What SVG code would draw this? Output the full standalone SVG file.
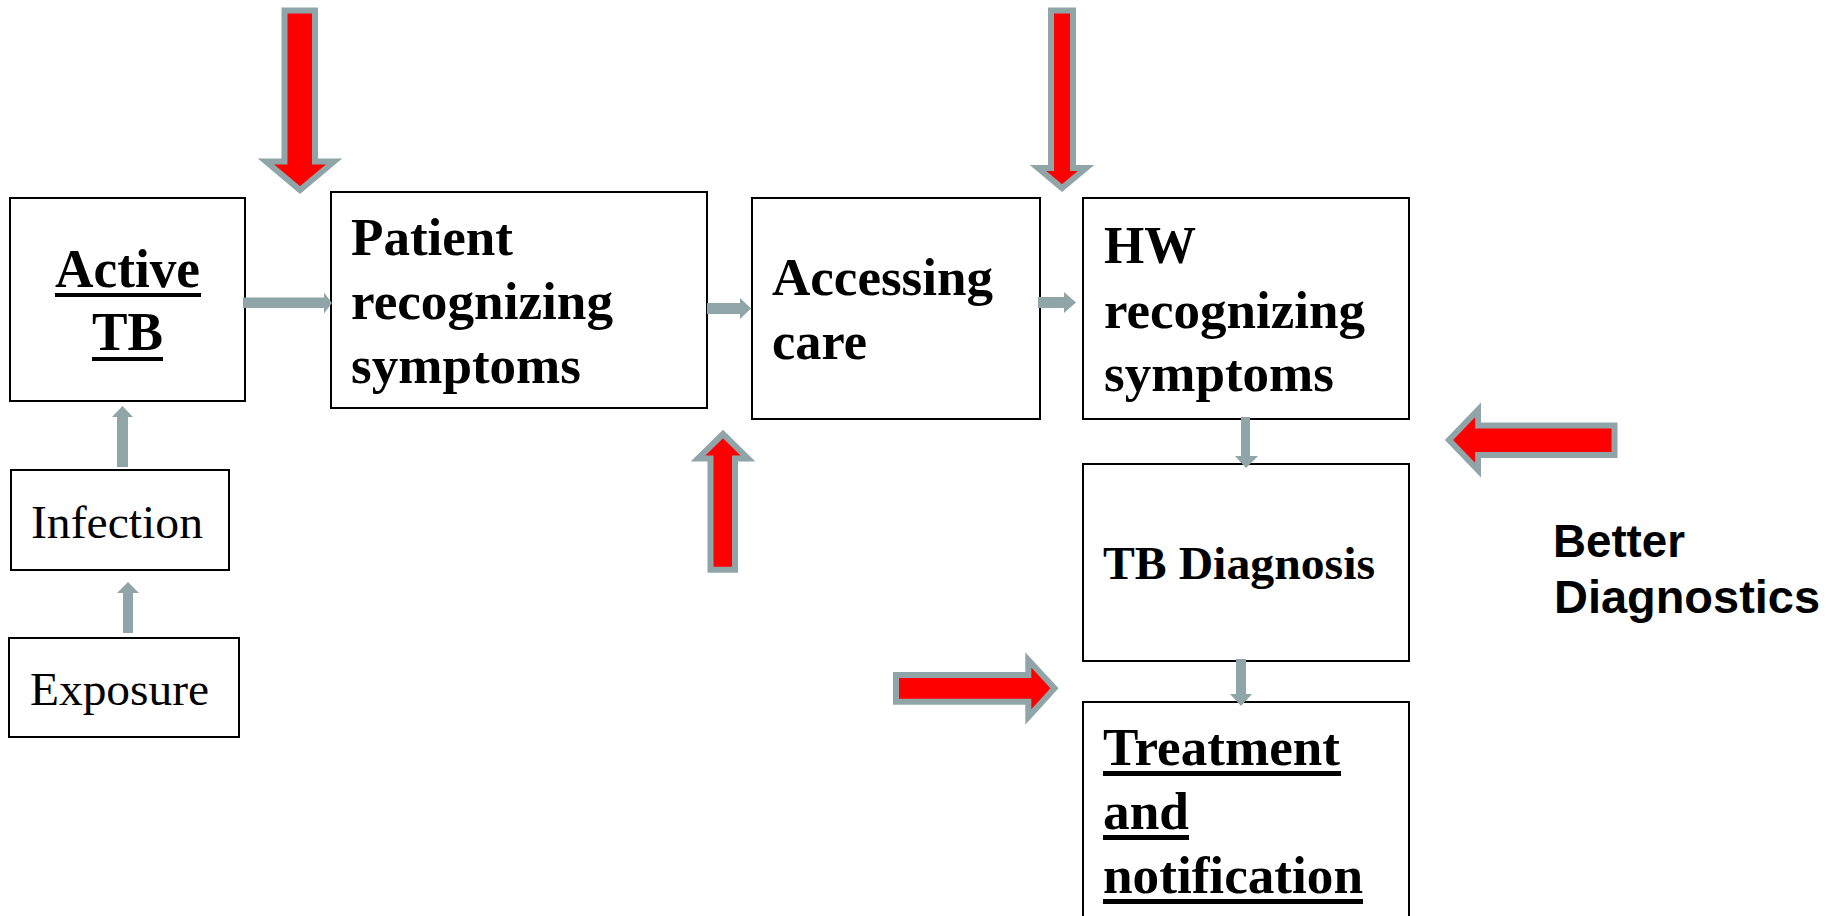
<svg xmlns="http://www.w3.org/2000/svg" width="1837" height="916" viewBox="0 0 1837 916">
<style>
.box{fill:#ffffff;stroke:#000000;stroke-width:2}
.tb{font-family:"Liberation Serif","Times New Roman",serif;font-weight:bold;fill:#000}
.tr{font-family:"Liberation Serif","Times New Roman",serif;fill:#000}
.ts{font-family:"Liberation Sans",Arial,sans-serif;font-weight:bold;fill:#000}
.ul{fill:#000}
.conn{fill:#8fa5a7;stroke:none}
.big{fill:#ff0000;stroke:#8fa5a7;stroke-width:6;stroke-linejoin:miter;stroke-miterlimit:10}
</style>
<rect width="1837" height="916" fill="#ffffff"/>

<g id="active-tb">
<rect class="box" x="10" y="198" width="235" height="203"/>
<text class="tb" x="55" y="287" font-size="54" textLength="145" lengthAdjust="spacingAndGlyphs">Active</text>
<rect class="ul" x="55" y="293" width="146" height="4"/>
<text class="tb" x="92" y="350" font-size="54" textLength="71" lengthAdjust="spacingAndGlyphs">TB</text>
<rect class="ul" x="92" y="357" width="71" height="4"/>
</g>

<g id="patient-recognizing">
<rect class="box" x="331" y="192" width="376" height="216"/>
<text class="tb" x="351" y="255" font-size="53" textLength="162" lengthAdjust="spacingAndGlyphs">Patient</text>
<text class="tb" x="351" y="319" font-size="53" textLength="262" lengthAdjust="spacingAndGlyphs">recognizing</text>
<text class="tb" x="351" y="383" font-size="53" textLength="230" lengthAdjust="spacingAndGlyphs">symptoms</text>
</g>

<g id="accessing-care">
<rect class="box" x="752" y="198" width="288" height="221"/>
<text class="tb" x="772" y="295" font-size="53" textLength="221" lengthAdjust="spacingAndGlyphs">Accessing</text>
<text class="tb" x="772" y="359" font-size="53" textLength="95" lengthAdjust="spacingAndGlyphs">care</text>
</g>

<g id="hw-recognizing">
<rect class="box" x="1083" y="198" width="326" height="221"/>
<text class="tb" x="1104" y="263" font-size="53" textLength="92" lengthAdjust="spacingAndGlyphs">HW</text>
<text class="tb" x="1104" y="328" font-size="53" textLength="261" lengthAdjust="spacingAndGlyphs">recognizing</text>
<text class="tb" x="1104" y="391" font-size="53" textLength="230" lengthAdjust="spacingAndGlyphs">symptoms</text>
</g>

<g id="tb-diagnosis">
<rect class="box" x="1083" y="464" width="326" height="197"/>
<text class="tb" x="1103" y="579" font-size="47" textLength="272" lengthAdjust="spacingAndGlyphs">TB Diagnosis</text>
</g>

<g id="treatment">
<rect class="box" x="1083" y="702" width="326" height="240"/>
<text class="tb" x="1103" y="765" font-size="53" textLength="237" lengthAdjust="spacingAndGlyphs">Treatment</text>
<rect class="ul" x="1103" y="771" width="238" height="5"/>
<text class="tb" x="1103" y="829" font-size="53" textLength="86" lengthAdjust="spacingAndGlyphs">and</text>
<rect class="ul" x="1103" y="835" width="86" height="5"/>
<text class="tb" x="1103" y="893" font-size="53" textLength="260" lengthAdjust="spacingAndGlyphs">notification</text>
<rect class="ul" x="1103" y="899" width="260" height="5"/>
</g>

<g id="infection">
<rect class="box" x="11" y="470" width="218" height="100"/>
<text class="tr" x="31" y="538" font-size="47" textLength="172" lengthAdjust="spacingAndGlyphs">Infection</text>
</g>

<g id="exposure">
<rect class="box" x="9" y="638" width="230" height="99"/>
<text class="tr" x="30" y="705" font-size="47" textLength="179" lengthAdjust="spacingAndGlyphs">Exposure</text>
</g>

<g id="better-diagnostics">
<text class="ts" x="1553" y="557" font-size="46" textLength="132" lengthAdjust="spacingAndGlyphs">Better</text>
<text class="ts" x="1554" y="613" font-size="46" textLength="266" lengthAdjust="spacingAndGlyphs">Diagnostics</text>
</g>

<g id="connectors">
<path class="conn" d="M243,297.5 H324 V292.5 L332,303 L324,313.5 V308 H243 Z"/>
<path class="conn" d="M707,303 H740 V298 L751,308.5 L740,319 V314 H707 Z"/>
<path class="conn" d="M1038,297 H1064 V292 L1076,302.5 L1064,313 V308 H1038 Z"/>
<path class="conn" d="M1241,417 V456 H1235 L1246,468 L1258,456 H1250 V417 Z"/>
<path class="conn" d="M1236,659 V694 H1230 L1241,706 L1252,694 H1246 V659 Z"/>
<path class="conn" d="M117,467 V417 H112 L122.5,406 L133,417 H128 V467 Z"/>
<path class="conn" d="M123,633 V593 H117 L128,582 L139,593 H133 V633 Z"/>
</g>

<g id="red-arrows">
<polygon class="big" points="284.5,10.5 315,10.5 315,161.5 334,161.5 300,190 266,161.5 284.5,161.5"/>
<polygon class="big" points="1051,10.5 1073,10.5 1073,168 1086,168 1062,188 1038,168 1051,168"/>
<polygon class="big" points="710.5,569.7 735,569.7 735,458.5 748,458.5 723,434 698,458.5 710.5,458.5"/>
<polygon class="big" points="896,675 1028.3,675 1028.3,660 1054.5,688.3 1028.3,717 1028.3,701.7 896,701.7"/>
<polygon class="big" points="1614.5,425.5 1478,425.5 1478,410 1449,440 1478,470 1478,455 1614.5,455"/>
</g>
</svg>
